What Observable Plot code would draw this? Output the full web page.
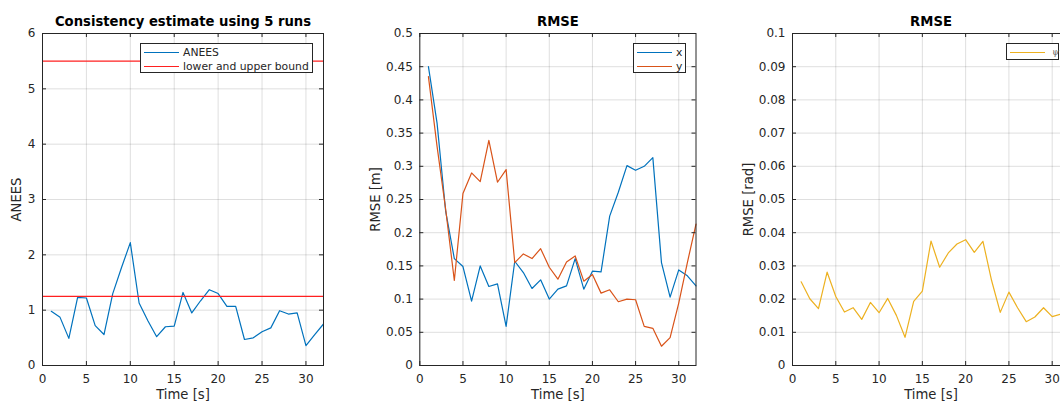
<!DOCTYPE html>
<html>
<head>
<meta charset="utf-8">
<script src="https://cdn.jsdelivr.net/npm/d3@7"></script>
<script src="https://cdn.jsdelivr.net/npm/@observablehq/plot@0.6"></script>
<style>
  html, body { margin: 0; padding: 0; background: #fff; overflow: hidden; }
  #wrap { position: relative; width: 1060px; height: 401px; overflow: hidden; font-family: "DejaVu Sans", sans-serif; }
  .panel { position: absolute; top: 0; }
  .legend { position: absolute; background: #fff; border: 1px solid #262626; box-sizing: border-box; color: #262626; font-size: 10.8px; }
  .legend .row { position: absolute; left: 3px; height: 14px; display: flex; align-items: center; white-space: nowrap; }
  .legend .sw { display: inline-block; width: 35px; height: 0; border-top: 1.2px solid; margin-right: 4px; }
</style>
</head>
<body>
<div id="wrap"></div>
<script>
// ---- data ----
const time = [1,2,3,4,5,6,7,8,9,10,11,12,13,14,15,16,17,18,19,20,21,22,23,24,25,26,27,28,29,30,31,32];
const anees = [0.98,0.87,0.49,1.23,1.22,0.72,0.56,1.30,1.77,2.22,1.13,0.81,0.52,0.70,0.71,1.32,0.95,1.17,1.37,1.30,1.07,1.07,0.47,0.50,0.61,0.68,0.99,0.93,0.95,0.36,0.56,0.75];
const aneesBounds = [1.25, 5.5];
const rmseX = [0.450,0.365,0.232,0.161,0.149,0.097,0.150,0.119,0.123,0.059,0.157,0.140,0.116,0.129,0.100,0.115,0.120,0.161,0.115,0.142,0.141,0.225,0.261,0.301,0.294,0.300,0.313,0.155,0.103,0.144,0.135,0.120];
const rmseY = [0.435,0.330,0.235,0.128,0.259,0.290,0.277,0.339,0.276,0.295,0.155,0.168,0.161,0.176,0.148,0.130,0.156,0.165,0.127,0.137,0.109,0.114,0.096,0.100,0.099,0.059,0.056,0.029,0.042,0.094,0.155,0.213];
const rmsePsi = [0.0252,0.0201,0.0171,0.0281,0.0208,0.0161,0.0174,0.0139,0.0190,0.0159,0.0202,0.0151,0.0085,0.0193,0.0224,0.0375,0.0296,0.0339,0.0366,0.0379,0.0341,0.0374,0.0256,0.0160,0.0221,0.0174,0.0132,0.0146,0.0174,0.0147,0.0155,0.0170];
const xTicks = [0,5,10,15,20,25,30];
const aneesTicks = [0,1,2,3,4,5,6];
const rmseMTicks = [0,0.05,0.1,0.15,0.2,0.25,0.3,0.35,0.4,0.45,0.5];
const rmseRadTicks = [0,0.01,0.02,0.03,0.04,0.05,0.06,0.07,0.08,0.09,0.1];

const C_BLUE = "#0072BD", C_ORANGE = "#D95319", C_YELLOW = "#EDB120", C_RED = "#ff2020";
const AX = "#262626";
const H = 401, MT = 33, MB = 36;
const FH = H - MT - MB;

function panel({left, width, marginLeft, marginRight, yDomain, yTicks, title, ylabel, ylabelDx, lines}) {
  const FW = width - marginLeft - marginRight;
  const fmt = d3.format("~g");
  const chart = Plot.plot({
    width, height: H, marginTop: MT, marginBottom: MB, marginLeft, marginRight,
    style: {fontFamily: "'DejaVu Sans', sans-serif", fontSize: "12px", color: AX, background: "transparent", overflow: "visible"},
    x: {domain: [0, 32]},
    y: {domain: yDomain},
    marks: [
      Plot.gridX(xTicks, {stroke: AX, strokeOpacity: 0.15}),
      Plot.gridY(yTicks, {stroke: AX, strokeOpacity: 0.15}),
      ...lines,
      Plot.frame({stroke: AX, strokeWidth: 1}),
      Plot.tickX(xTicks, {x: d => d, insetTop: FH - 4, stroke: AX}),
      Plot.tickX(xTicks, {x: d => d, insetBottom: FH - 4, stroke: AX}),
      Plot.tickY(yTicks, {y: d => d, insetRight: FW - 4, stroke: AX}),
      Plot.tickY(yTicks, {y: d => d, insetLeft: FW - 4, stroke: AX}),
      Plot.axisX(xTicks, {tickSize: 0, tickPadding: 8.5, label: null, fill: AX, fontSize: 12}),
      Plot.axisY(yTicks, {tickSize: 0, tickPadding: 7, label: null, tickFormat: fmt, fill: AX, fontSize: 12}),
      Plot.text([title], {text: d => d, frameAnchor: "top", lineAnchor: "middle", textAnchor: "middle", dy: -12, fontWeight: "bold", fontSize: 13.2, fill: "#000"}),
      Plot.text(["Time [s]"], {text: d => d, frameAnchor: "bottom", lineAnchor: "middle", textAnchor: "middle", dy: 29, fontSize: 13.2, fill: AX}),
      Plot.text([ylabel], {text: d => d, frameAnchor: "left", lineAnchor: "middle", textAnchor: "middle", rotate: -90, dx: ylabelDx, fontSize: 13.2, fill: AX})
    ]
  });
  chart.classList.add("panel");
  chart.style.left = left + "px";
  document.getElementById("wrap").appendChild(chart);
}

const lineOpts = (color) => ({stroke: color, strokeWidth: 1.2});

panel({
  left: 0, width: 340, marginLeft: 42, marginRight: 17,
  yDomain: [0, 6], yTicks: aneesTicks,
  title: "Consistency estimate using 5 runs", ylabel: "ANEES", ylabelDx: -26,
  lines: [
    Plot.lineY(anees, {x: time, y: d => d, ...lineOpts(C_BLUE)}),
    Plot.ruleY(aneesBounds, {stroke: C_RED, strokeWidth: 1.3})
  ]
});

panel({
  left: 340, width: 360, marginLeft: 79.3, marginRight: 4.5,
  yDomain: [0, 0.5], yTicks: rmseMTicks,
  title: "RMSE", ylabel: "RMSE [m]", ylabelDx: -44,
  lines: [
    Plot.lineY(rmseX, {x: time, y: d => d, ...lineOpts(C_BLUE)}),
    Plot.lineY(rmseY, {x: time, y: d => d, ...lineOpts(C_ORANGE)})
  ]
});

panel({
  left: 700, width: 386, marginLeft: 92, marginRight: 17,
  yDomain: [0, 0.1], yTicks: rmseRadTicks,
  title: "RMSE", ylabel: "RMSE [rad]", ylabelDx: -44,
  lines: [
    Plot.lineY(rmsePsi, {x: time, y: d => d, ...lineOpts(C_YELLOW)})
  ]
});

// ---- legends ----
function legend(left, top, width, height, items, extraLabelStyle) {
  const box = document.createElement("div");
  box.className = "legend";
  Object.assign(box.style, {left: left + "px", top: top + "px", width: width + "px", height: height + "px"});
  items.forEach(([label, color], i) => {
    const row = document.createElement("div");
    row.className = "row";
    row.style.top = (1 + i * 14) + "px";
    const sw = document.createElement("span");
    sw.className = "sw";
    sw.style.borderTopColor = color;
    const tx = document.createElement("span");
    tx.textContent = label;
    if (extraLabelStyle) Object.assign(tx.style, extraLabelStyle);
    row.appendChild(sw); row.appendChild(tx);
    box.appendChild(row);
  });
  document.getElementById("wrap").appendChild(box);
}
legend(140, 43, 173, 30, [["ANEES", C_BLUE], ["lower and upper bound", C_RED]]);
legend(633, 43, 53, 30, [["x", C_BLUE], ["y", C_ORANGE]]);
legend(1006, 43, 53, 17, [["ψ", C_YELLOW]], {fontFamily: "'DejaVu Serif', serif", fontStyle: "italic", fontSize: "9px", color: "#666", marginLeft: "3px"});
</script>
</body>
</html>
